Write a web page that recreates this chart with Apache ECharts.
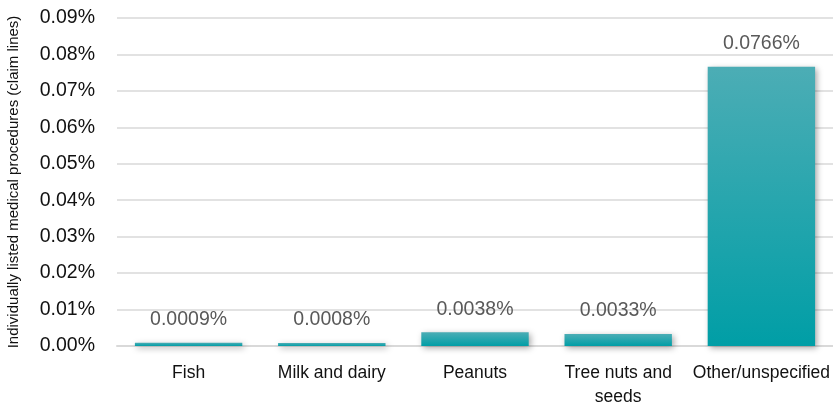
<!DOCTYPE html>
<html>
<head>
<meta charset="utf-8">
<script src="https://cdn.jsdelivr.net/npm/echarts@6/dist/echarts.min.js"></script>
<style>html,body{margin:0;padding:0;background:#fff}#c{width:833px;height:407px}</style>
</head>
<body>
<div id="c"></div>
<script>
const categories = ['Fish', 'Milk and dairy', 'Peanuts', 'Tree nuts and\nseeds', 'Other/unspecified'];
const values = [0.0009, 0.0008, 0.0038, 0.0033, 0.0766];
const valueLabels = ['0.0009%', '0.0008%', '0.0038%', '0.0033%', '0.0766%'];
const yAxisTitle = 'Individually listed medical procedures (claim lines)';

const FONT = '"Liberation Sans", Arial, sans-serif';
const chart = echarts.init(document.getElementById('c'));
chart.setOption({
  animation: false,
  textStyle: { fontFamily: FONT },
  grid: { left: 117, right: 0, top: 18, bottom: 61, containLabel: false, outerBoundsMode: 'none' },
  xAxis: {
    type: 'category',
    data: categories,
    axisLine: { lineStyle: { color: '#d9d9d9', width: 2 } },
    axisTick: { show: false },
    axisLabel: { color: '#111', fontSize: 17.5, fontFamily: FONT, margin: 15, lineHeight: 24, interval: 0 }
  },
  yAxis: {
    type: 'value',
    min: 0, max: 0.09, interval: 0.01,
    name: yAxisTitle,
    nameLocation: 'middle',
    nameGap: 96,
    nameTextStyle: { fontSize: 15, color: '#111', fontFamily: FONT },
    axisLabel: { color: '#111', fontSize: 19.5, fontFamily: FONT, margin: 22, formatter: v => v.toFixed(2) + '%' },
    splitLine: { lineStyle: { color: '#d9d9d9', width: 1.5 } },
    axisLine: { show: false },
    axisTick: { show: false }
  },
  series: [{
    type: 'bar',
    data: values,
    barCategoryGap: '25%',
    itemStyle: {
      color: new echarts.graphic.LinearGradient(0, 0, 0, 1, [
        { offset: 0, color: '#4cadb5' },
        { offset: 1, color: '#009ea6' }
      ]),
      shadowBlur: 6,
      shadowColor: 'rgba(0,0,0,0.35)',
      shadowOffsetX: 2,
      shadowOffsetY: 2
    },
    label: {
      show: true,
      position: 'top',
      distance: 13,
      fontSize: 19.5,
      fontFamily: FONT,
      color: '#595959',
      formatter: p => valueLabels[p.dataIndex]
    }
  }]
});
</script>
</body>
</html>
